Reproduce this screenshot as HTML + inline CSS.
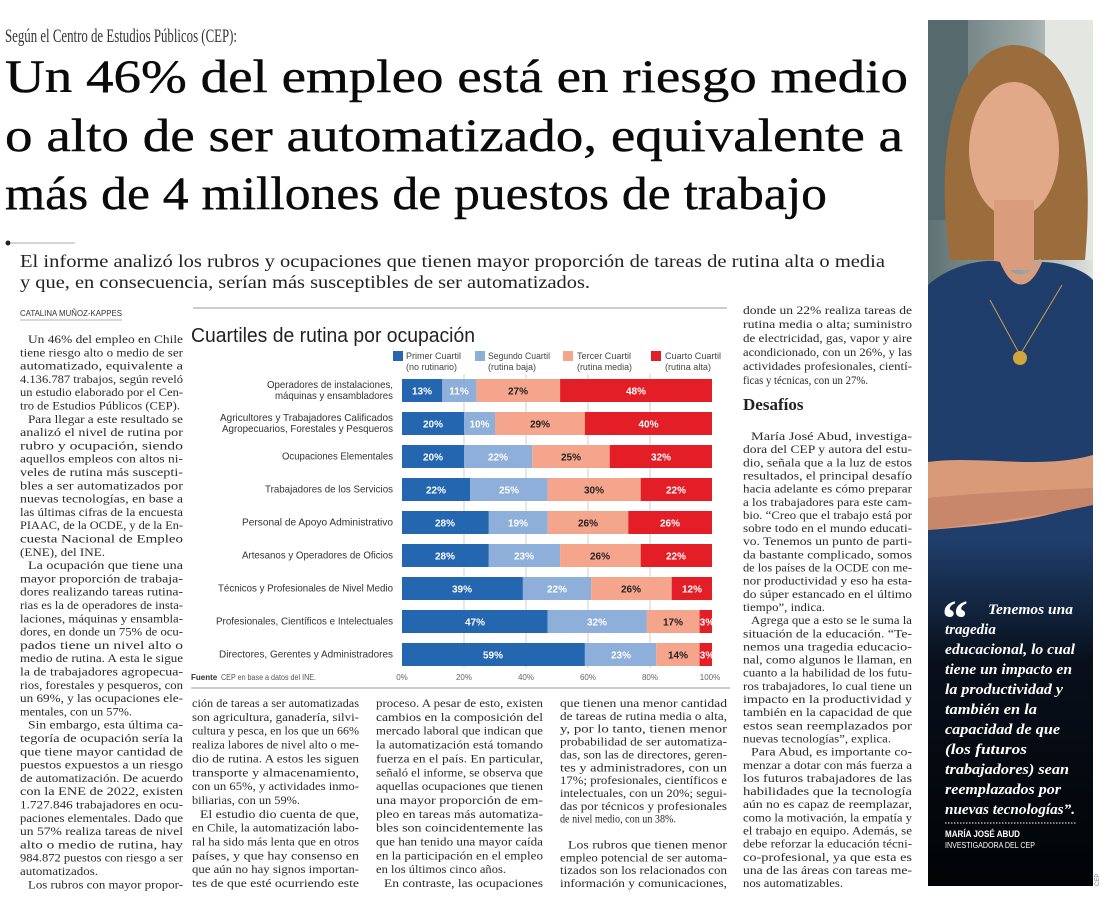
<!DOCTYPE html>
<html><head><meta charset="utf-8"><style>
html,body{margin:0;padding:0;background:#fff}
svg{display:block}
.b{font-family:"Liberation Serif",serif;font-size:12px;fill:#2a2a2a}
.s{font-family:"Liberation Sans",sans-serif}
.cat{font-family:"Liberation Sans",sans-serif;font-size:10.5px;fill:#333}
.v{font-family:"Liberation Sans",sans-serif;font-size:10px;font-weight:bold;fill:#fff}
.vd{font-family:"Liberation Sans",sans-serif;font-size:10px;font-weight:bold;fill:#222}
.lg{font-family:"Liberation Sans",sans-serif;font-size:9px;fill:#444}
.ax{font-family:"Liberation Sans",sans-serif;font-size:8px;fill:#666}
.q{font-family:"Liberation Serif",serif;font-size:15px;font-weight:bold;font-style:italic;fill:#fff}
</style></head><body>
<svg width="1100" height="898" viewBox="0 0 1100 898" xmlns="http://www.w3.org/2000/svg">
<defs>
<linearGradient id="bg" x1="0" y1="0" x2="1" y2="0"><stop offset="0" stop-color="#5f7274"/><stop offset="0.6" stop-color="#9aa7a6"/><stop offset="1" stop-color="#dfe2de"/></linearGradient>
<linearGradient id="dk" x1="0" y1="0" x2="0" y2="1"><stop offset="0" stop-color="#000" stop-opacity="0"/><stop offset="0.35" stop-color="#000" stop-opacity="0.75"/><stop offset="1" stop-color="#000" stop-opacity="0.95"/></linearGradient>
<clipPath id="ph"><rect x="928" y="20" width="165" height="866"/></clipPath>
</defs>

<!-- Header -->
<text x="5" y="42" font-family="Liberation Serif, serif" font-size="19" fill="#333" textLength="232" lengthAdjust="spacingAndGlyphs">Según el Centro de Estudios Públicos (CEP):</text>
<g font-family="Liberation Serif, serif" font-size="47" fill="#0a0a0a" stroke="#0a0a0a" stroke-width="0.4">
<text x="5" y="92" textLength="903" lengthAdjust="spacingAndGlyphs">Un 46% del empleo está en riesgo medio</text>
<text x="5" y="151" textLength="898" lengthAdjust="spacingAndGlyphs">o alto de ser automatizado, equivalente a</text>
<text x="5" y="209" textLength="822" lengthAdjust="spacingAndGlyphs">más de 4 millones de puestos de trabajo</text>
</g>
<circle cx="8" cy="243" r="2.5" fill="#222"/>
<line x1="10" y1="243" x2="75" y2="243" stroke="#aaa" stroke-width="1"/>
<g font-family="Liberation Serif, serif" font-size="18" fill="#222">
<text x="20" y="267" textLength="865" lengthAdjust="spacingAndGlyphs">El informe analizó los rubros y ocupaciones que tienen mayor proporción de tareas de rutina alta o media</text>
<text x="20" y="288" textLength="570" lengthAdjust="spacingAndGlyphs">y que, en consecuencia, serían más susceptibles de ser automatizados.</text>
</g>
<text x="20" y="316" class="s" font-size="8.5" fill="#333" textLength="102" lengthAdjust="spacingAndGlyphs">CATALINA MUÑOZ-KAPPES</text>
<line x1="20" y1="320" x2="122" y2="320" stroke="#999" stroke-width="0.7"/>
<line x1="193" y1="308" x2="727" y2="308" stroke="#999" stroke-width="1"/>

<!-- Left column -->
<g class="b">
<text x="28" y="343" textLength="155" lengthAdjust="spacingAndGlyphs">Un 46% del empleo en Chile</text>
<text x="20" y="356.3" textLength="163" lengthAdjust="spacingAndGlyphs">tiene riesgo alto o medio de ser</text>
<text x="20" y="369.6" textLength="163" lengthAdjust="spacingAndGlyphs">automatizado, equivalente a</text>
<text x="20" y="382.9" textLength="163" lengthAdjust="spacingAndGlyphs">4.136.787 trabajos, según reveló</text>
<text x="20" y="396.2" textLength="163" lengthAdjust="spacingAndGlyphs">un estudio elaborado por el Cen-</text>
<text x="20" y="409.5" textLength="160" lengthAdjust="spacingAndGlyphs">tro de Estudios Públicos (CEP).</text>
<text x="28" y="422.8" textLength="155" lengthAdjust="spacingAndGlyphs">Para llegar a este resultado se</text>
<text x="20" y="436.1" textLength="163" lengthAdjust="spacingAndGlyphs">analizó el nivel de rutina por</text>
<text x="20" y="449.4" textLength="163" lengthAdjust="spacingAndGlyphs">rubro y ocupación, siendo</text>
<text x="20" y="462.7" textLength="163" lengthAdjust="spacingAndGlyphs">aquellos empleos con altos ni-</text>
<text x="20" y="476" textLength="163" lengthAdjust="spacingAndGlyphs">veles de rutina más suscepti-</text>
<text x="20" y="489.3" textLength="163" lengthAdjust="spacingAndGlyphs">bles a ser automatizados por</text>
<text x="20" y="502.6" textLength="163" lengthAdjust="spacingAndGlyphs">nuevas tecnologías, en base a</text>
<text x="20" y="515.9" textLength="163" lengthAdjust="spacingAndGlyphs">las últimas cifras de la encuesta</text>
<text x="20" y="529.2" textLength="163" lengthAdjust="spacingAndGlyphs">PIAAC, de la OCDE, y de la En-</text>
<text x="20" y="542.5" textLength="163" lengthAdjust="spacingAndGlyphs">cuesta Nacional de Empleo</text>
<text x="20" y="555.8" textLength="85" lengthAdjust="spacingAndGlyphs">(ENE), del INE.</text>
<text x="28" y="569.1" textLength="155" lengthAdjust="spacingAndGlyphs">La ocupación que tiene una</text>
<text x="20" y="582.4" textLength="163" lengthAdjust="spacingAndGlyphs">mayor proporción de trabaja-</text>
<text x="20" y="595.7" textLength="163" lengthAdjust="spacingAndGlyphs">dores realizando tareas rutina-</text>
<text x="20" y="609" textLength="163" lengthAdjust="spacingAndGlyphs">rias es la de operadores de insta-</text>
<text x="20" y="622.3" textLength="163" lengthAdjust="spacingAndGlyphs">laciones, máquinas y ensambla-</text>
<text x="20" y="635.6" textLength="163" lengthAdjust="spacingAndGlyphs">dores, en donde un 75% de ocu-</text>
<text x="20" y="648.9" textLength="163" lengthAdjust="spacingAndGlyphs">pados tiene un nivel alto o</text>
<text x="20" y="662.2" textLength="163" lengthAdjust="spacingAndGlyphs">medio de rutina. A esta le sigue</text>
<text x="20" y="675.5" textLength="163" lengthAdjust="spacingAndGlyphs">la de trabajadores agropecua-</text>
<text x="20" y="688.8" textLength="163" lengthAdjust="spacingAndGlyphs">rios, forestales y pesqueros, con</text>
<text x="20" y="702.1" textLength="163" lengthAdjust="spacingAndGlyphs">un 69%, y las ocupaciones ele-</text>
<text x="20" y="715.4" textLength="112" lengthAdjust="spacingAndGlyphs">mentales, con un 57%.</text>
<text x="28" y="728.7" textLength="155" lengthAdjust="spacingAndGlyphs">Sin embargo, esta última ca-</text>
<text x="20" y="742" textLength="163" lengthAdjust="spacingAndGlyphs">tegoría de ocupación sería la</text>
<text x="20" y="755.3" textLength="163" lengthAdjust="spacingAndGlyphs">que tiene mayor cantidad de</text>
<text x="20" y="768.6" textLength="163" lengthAdjust="spacingAndGlyphs">puestos expuestos a un riesgo</text>
<text x="20" y="781.9" textLength="163" lengthAdjust="spacingAndGlyphs">de automatización. De acuerdo</text>
<text x="20" y="795.2" textLength="163" lengthAdjust="spacingAndGlyphs">con la ENE de 2022, existen</text>
<text x="20" y="808.5" textLength="163" lengthAdjust="spacingAndGlyphs">1.727.846 trabajadores en ocu-</text>
<text x="20" y="821.8" textLength="163" lengthAdjust="spacingAndGlyphs">paciones elementales. Dado que</text>
<text x="20" y="835.1" textLength="163" lengthAdjust="spacingAndGlyphs">un 57% realiza tareas de nivel</text>
<text x="20" y="848.4" textLength="163" lengthAdjust="spacingAndGlyphs">alto o medio de rutina, hay</text>
<text x="20" y="861.7" textLength="163" lengthAdjust="spacingAndGlyphs">984.872 puestos con riesgo a ser</text>
<text x="20" y="875" textLength="78" lengthAdjust="spacingAndGlyphs">automatizados.</text>
<text x="28" y="888.3" textLength="155" lengthAdjust="spacingAndGlyphs">Los rubros con mayor propor-</text>
</g>

<!-- Chart -->
<text x="191" y="342" class="s" font-size="20" fill="#222" textLength="284" lengthAdjust="spacingAndGlyphs">Cuartiles de rutina por ocupación</text>
<rect x="393" y="351" width="10" height="10" fill="#2466b0"/>
<rect x="475" y="351" width="10" height="10" fill="#8dafda"/>
<rect x="563" y="351" width="10" height="10" fill="#f5a58b"/>
<rect x="651" y="351" width="10" height="10" fill="#e31e26"/>
<g class="lg">
<text x="406" y="359" textLength="55" lengthAdjust="spacingAndGlyphs">Primer Cuartil</text>
<text x="406" y="370" textLength="51" lengthAdjust="spacingAndGlyphs">(no rutinario)</text>
<text x="488" y="359" textLength="62" lengthAdjust="spacingAndGlyphs">Segundo Cuartil</text>
<text x="488" y="370" textLength="48" lengthAdjust="spacingAndGlyphs">(rutina baja)</text>
<text x="577" y="359" textLength="54" lengthAdjust="spacingAndGlyphs">Tercer Cuartil</text>
<text x="577" y="370" textLength="55" lengthAdjust="spacingAndGlyphs">(rutina media)</text>
<text x="665" y="359" textLength="56" lengthAdjust="spacingAndGlyphs">Cuarto Cuartil</text>
<text x="665" y="370" textLength="46" lengthAdjust="spacingAndGlyphs">(rutina alta)</text>
</g>
<g stroke="#cfcfcf" stroke-width="1">
<line x1="464" y1="374" x2="464" y2="668"/><line x1="526" y1="374" x2="526" y2="668"/>
<line x1="588" y1="374" x2="588" y2="668"/><line x1="650" y1="374" x2="650" y2="668"/>
</g>
<g>
<rect x="402" y="379" width="40.3" height="23" fill="#2466b0"/><rect x="442.3" y="379" width="34.1" height="23" fill="#8dafda"/><rect x="476.4" y="379" width="83.7" height="23" fill="#f5a58b"/><rect x="560.1" y="379" width="151.9" height="23" fill="#e31e26"/>
<rect x="402" y="412" width="62" height="23" fill="#2466b0"/><rect x="464" y="412" width="31" height="23" fill="#8dafda"/><rect x="495" y="412" width="89.9" height="23" fill="#f5a58b"/><rect x="584.9" y="412" width="127.1" height="23" fill="#e31e26"/>
<rect x="402" y="445" width="62" height="23" fill="#2466b0"/><rect x="464" y="445" width="68.2" height="23" fill="#8dafda"/><rect x="532.2" y="445" width="77.5" height="23" fill="#f5a58b"/><rect x="609.7" y="445" width="102.3" height="23" fill="#e31e26"/>
<rect x="402" y="478" width="68.2" height="23" fill="#2466b0"/><rect x="470.2" y="478" width="77.5" height="23" fill="#8dafda"/><rect x="547.7" y="478" width="93" height="23" fill="#f5a58b"/><rect x="640.7" y="478" width="71.3" height="23" fill="#e31e26"/>
<rect x="402" y="511" width="86.8" height="23" fill="#2466b0"/><rect x="488.8" y="511" width="58.9" height="23" fill="#8dafda"/><rect x="547.7" y="511" width="80.6" height="23" fill="#f5a58b"/><rect x="628.3" y="511" width="83.7" height="23" fill="#e31e26"/>
<rect x="402" y="544" width="86.8" height="23" fill="#2466b0"/><rect x="488.8" y="544" width="71.3" height="23" fill="#8dafda"/><rect x="560.1" y="544" width="80.6" height="23" fill="#f5a58b"/><rect x="640.7" y="544" width="71.3" height="23" fill="#e31e26"/>
<rect x="402" y="577" width="120.9" height="23" fill="#2466b0"/><rect x="522.9" y="577" width="68.2" height="23" fill="#8dafda"/><rect x="591.1" y="577" width="80.6" height="23" fill="#f5a58b"/><rect x="671.7" y="577" width="40.3" height="23" fill="#e31e26"/>
<rect x="402" y="610" width="145.7" height="23" fill="#2466b0"/><rect x="547.7" y="610" width="99.2" height="23" fill="#8dafda"/><rect x="646.9" y="610" width="52.7" height="23" fill="#f5a58b"/><rect x="699.6" y="610" width="12.4" height="23" fill="#e31e26"/>
<rect x="402" y="643" width="182.9" height="23" fill="#2466b0"/><rect x="584.9" y="643" width="71.3" height="23" fill="#8dafda"/><rect x="656.2" y="643" width="43.4" height="23" fill="#f5a58b"/><rect x="699.6" y="643" width="12.4" height="23" fill="#e31e26"/>
</g>
<g text-anchor="middle">
<text class="v" x="422" y="394.5">13%</text><text class="v" x="459" y="394.5">11%</text><text class="vd" x="518" y="394.5">27%</text><text class="v" x="636" y="394.5">48%</text>
<text class="v" x="433" y="427.5">20%</text><text class="v" x="479.5" y="427.5">10%</text><text class="vd" x="540" y="427.5">29%</text><text class="v" x="648.5" y="427.5">40%</text>
<text class="v" x="433" y="460.5">20%</text><text class="v" x="498" y="460.5">22%</text><text class="vd" x="571" y="460.5">25%</text><text class="v" x="661" y="460.5">32%</text>
<text class="v" x="436" y="493.5">22%</text><text class="v" x="509" y="493.5">25%</text><text class="vd" x="594" y="493.5">30%</text><text class="v" x="676" y="493.5">22%</text>
<text class="v" x="445" y="526.5">28%</text><text class="v" x="518" y="526.5">19%</text><text class="vd" x="588" y="526.5">26%</text><text class="v" x="670" y="526.5">26%</text>
<text class="v" x="445" y="559.5">28%</text><text class="v" x="524" y="559.5">23%</text><text class="vd" x="600" y="559.5">26%</text><text class="v" x="676" y="559.5">22%</text>
<text class="v" x="462" y="592.5">39%</text><text class="v" x="557" y="592.5">22%</text><text class="vd" x="631" y="592.5">26%</text><text class="v" x="692" y="592.5">12%</text>
<text class="v" x="475" y="625.5">47%</text><text class="v" x="597" y="625.5">32%</text><text class="vd" x="673" y="625.5">17%</text><text class="v" x="707" y="625.5">3%</text>
<text class="v" x="493" y="658.5">59%</text><text class="v" x="621" y="658.5">23%</text><text class="vd" x="678" y="658.5">14%</text><text class="v" x="707" y="658.5">3%</text>
</g>
<g class="cat" text-anchor="end">
<text x="393" y="388" textLength="126" lengthAdjust="spacingAndGlyphs">Operadores de instalaciones,</text>
<text x="393" y="399" textLength="118" lengthAdjust="spacingAndGlyphs">máquinas y ensambladores</text>
<text x="393" y="421" textLength="173" lengthAdjust="spacingAndGlyphs">Agricultores y Trabajadores Calificados</text>
<text x="393" y="432" textLength="171" lengthAdjust="spacingAndGlyphs">Agropecuarios, Forestales y Pesqueros</text>
<text x="393" y="459.5" textLength="111" lengthAdjust="spacingAndGlyphs">Ocupaciones Elementales</text>
<text x="393" y="492.5" textLength="128" lengthAdjust="spacingAndGlyphs">Trabajadores de los Servicios</text>
<text x="393" y="525.5" textLength="151" lengthAdjust="spacingAndGlyphs">Personal de Apoyo Administrativo</text>
<text x="393" y="558.5" textLength="151" lengthAdjust="spacingAndGlyphs">Artesanos y Operadores de Oficios</text>
<text x="393" y="591.5" textLength="175" lengthAdjust="spacingAndGlyphs">Técnicos y Profesionales de Nivel Medio</text>
<text x="393" y="624.5" textLength="177" lengthAdjust="spacingAndGlyphs">Profesionales, Científicos e Intelectuales</text>
<text x="393" y="657.5" textLength="174" lengthAdjust="spacingAndGlyphs">Directores, Gerentes y Administradores</text>
</g>
<g class="ax" text-anchor="middle">
<text x="402" y="680">0%</text><text x="464" y="680">20%</text><text x="526" y="680">40%</text><text x="588" y="680">60%</text><text x="650" y="680">80%</text><text x="710" y="680">100%</text>
</g>
<text x="191" y="680" class="s" font-size="8" font-weight="bold" fill="#333">Fuente</text>
<text x="221" y="680" class="s" font-size="8" fill="#555" textLength="95" lengthAdjust="spacingAndGlyphs">CEP en base a datos del INE.</text>
<line x1="191" y1="688" x2="730" y2="688" stroke="#999" stroke-width="1"/>

<!-- Bottom columns -->
<g class="b">
<text x="192" y="707" textLength="167" lengthAdjust="spacingAndGlyphs">ción de tareas a ser automatizadas</text>
<text x="192" y="720.85" textLength="167" lengthAdjust="spacingAndGlyphs">son agricultura, ganadería, silvi-</text>
<text x="192" y="734.7" textLength="167" lengthAdjust="spacingAndGlyphs">cultura y pesca, en los que un 66%</text>
<text x="192" y="748.55" textLength="167" lengthAdjust="spacingAndGlyphs">realiza labores de nivel alto o me-</text>
<text x="192" y="762.4" textLength="167" lengthAdjust="spacingAndGlyphs">dio de rutina. A estos les siguen</text>
<text x="192" y="776.25" textLength="167" lengthAdjust="spacingAndGlyphs">transporte y almacenamiento,</text>
<text x="192" y="790.1" textLength="167" lengthAdjust="spacingAndGlyphs">con un 65%, y actividades inmo-</text>
<text x="192" y="803.95" textLength="108" lengthAdjust="spacingAndGlyphs">biliarias, con un 59%.</text>
<text x="200" y="817.8" textLength="159" lengthAdjust="spacingAndGlyphs">El estudio dio cuenta de que,</text>
<text x="192" y="831.65" textLength="167" lengthAdjust="spacingAndGlyphs">en Chile, la automatización labo-</text>
<text x="192" y="845.5" textLength="167" lengthAdjust="spacingAndGlyphs">ral ha sido más lenta que en otros</text>
<text x="192" y="859.35" textLength="167" lengthAdjust="spacingAndGlyphs">países, y que hay consenso en</text>
<text x="192" y="873.2" textLength="167" lengthAdjust="spacingAndGlyphs">que aún no hay signos importan-</text>
<text x="192" y="887" textLength="167" lengthAdjust="spacingAndGlyphs">tes de que esté ocurriendo este</text>

<text x="376" y="707" textLength="167" lengthAdjust="spacingAndGlyphs">proceso. A pesar de esto, existen</text>
<text x="376" y="720.85" textLength="167" lengthAdjust="spacingAndGlyphs">cambios en la composición del</text>
<text x="376" y="734.7" textLength="167" lengthAdjust="spacingAndGlyphs">mercado laboral que indican que</text>
<text x="376" y="748.55" textLength="167" lengthAdjust="spacingAndGlyphs">la automatización está tomando</text>
<text x="376" y="762.4" textLength="167" lengthAdjust="spacingAndGlyphs">fuerza en el país. En particular,</text>
<text x="376" y="776.25" textLength="167" lengthAdjust="spacingAndGlyphs">señaló el informe, se observa que</text>
<text x="376" y="790.1" textLength="167" lengthAdjust="spacingAndGlyphs">aquellas ocupaciones que tienen</text>
<text x="376" y="803.95" textLength="167" lengthAdjust="spacingAndGlyphs">una mayor proporción de em-</text>
<text x="376" y="817.8" textLength="167" lengthAdjust="spacingAndGlyphs">pleo en tareas más automatiza-</text>
<text x="376" y="831.65" textLength="167" lengthAdjust="spacingAndGlyphs">bles son coincidentemente las</text>
<text x="376" y="845.5" textLength="167" lengthAdjust="spacingAndGlyphs">que han tenido una mayor caída</text>
<text x="376" y="859.35" textLength="167" lengthAdjust="spacingAndGlyphs">en la participación en el empleo</text>
<text x="376" y="873.2" textLength="130" lengthAdjust="spacingAndGlyphs">en los últimos cinco años.</text>
<text x="384" y="887" textLength="159" lengthAdjust="spacingAndGlyphs">En contraste, las ocupaciones</text>

<text x="560" y="707" textLength="167" lengthAdjust="spacingAndGlyphs">que tienen una menor cantidad</text>
<text x="560" y="719.9" textLength="167" lengthAdjust="spacingAndGlyphs">de tareas de rutina media o alta,</text>
<text x="560" y="732.7" textLength="167" lengthAdjust="spacingAndGlyphs">y, por lo tanto, tienen menor</text>
<text x="560" y="745.6" textLength="167" lengthAdjust="spacingAndGlyphs">probabilidad de ser automatiza-</text>
<text x="560" y="758.4" textLength="167" lengthAdjust="spacingAndGlyphs">das, son las de directores, geren-</text>
<text x="560" y="771.3" textLength="167" lengthAdjust="spacingAndGlyphs">tes y administradores, con un</text>
<text x="560" y="784.2" textLength="167" lengthAdjust="spacingAndGlyphs">17%; profesionales, científicos e</text>
<text x="560" y="797" textLength="167" lengthAdjust="spacingAndGlyphs">intelectuales, con un 20%; segui-</text>
<text x="560" y="809.9" textLength="167" lengthAdjust="spacingAndGlyphs">das por técnicos y profesionales</text>
<text x="560" y="822.7" textLength="116" lengthAdjust="spacingAndGlyphs">de nivel medio, con un 38%.</text>
<text x="568" y="848.5" textLength="159" lengthAdjust="spacingAndGlyphs">Los rubros que tienen menor</text>
<text x="560" y="861.3" textLength="167" lengthAdjust="spacingAndGlyphs">empleo potencial de ser automa-</text>
<text x="560" y="874.2" textLength="167" lengthAdjust="spacingAndGlyphs">tizados son los relacionados con</text>
<text x="560" y="887" textLength="167" lengthAdjust="spacingAndGlyphs">información y comunicaciones,</text>
</g>

<!-- Right column -->
<g class="b">
<text x="743" y="314" textLength="169" lengthAdjust="spacingAndGlyphs">donde un 22% realiza tareas de</text>
<text x="743" y="328" textLength="169" lengthAdjust="spacingAndGlyphs">rutina media o alta; suministro</text>
<text x="743" y="342" textLength="169" lengthAdjust="spacingAndGlyphs">de electricidad, gas, vapor y aire</text>
<text x="743" y="356" textLength="169" lengthAdjust="spacingAndGlyphs">acondicionado, con un 26%, y las</text>
<text x="743" y="370" textLength="169" lengthAdjust="spacingAndGlyphs">actividades profesionales, cientí-</text>
<text x="743" y="384" textLength="125" lengthAdjust="spacingAndGlyphs">ficas y técnicas, con un 27%.</text>
</g>
<text x="743" y="410" font-family="Liberation Serif, serif" font-size="17" font-weight="bold" fill="#222">Desafíos</text>
<g class="b">
<text x="751" y="440" textLength="161" lengthAdjust="spacingAndGlyphs">María José Abud, investiga-</text>
<text x="743" y="453.15" textLength="169" lengthAdjust="spacingAndGlyphs">dora del CEP y autora del estu-</text>
<text x="743" y="466.3" textLength="169" lengthAdjust="spacingAndGlyphs">dio, señala que a la luz de estos</text>
<text x="743" y="479.45" textLength="169" lengthAdjust="spacingAndGlyphs">resultados, el principal desafío</text>
<text x="743" y="492.6" textLength="169" lengthAdjust="spacingAndGlyphs">hacia adelante es cómo preparar</text>
<text x="743" y="505.75" textLength="169" lengthAdjust="spacingAndGlyphs">a los trabajadores para este cam-</text>
<text x="743" y="518.9" textLength="169" lengthAdjust="spacingAndGlyphs">bio. “Creo que el trabajo está por</text>
<text x="743" y="532.05" textLength="169" lengthAdjust="spacingAndGlyphs">sobre todo en el mundo educati-</text>
<text x="743" y="545.2" textLength="169" lengthAdjust="spacingAndGlyphs">vo. Tenemos un punto de parti-</text>
<text x="743" y="558.35" textLength="169" lengthAdjust="spacingAndGlyphs">da bastante complicado, somos</text>
<text x="743" y="571.5" textLength="169" lengthAdjust="spacingAndGlyphs">de los países de la OCDE con me-</text>
<text x="743" y="584.65" textLength="169" lengthAdjust="spacingAndGlyphs">nor productividad y eso ha esta-</text>
<text x="743" y="597.8" textLength="169" lengthAdjust="spacingAndGlyphs">do súper estancado en el último</text>
<text x="743" y="610.95" textLength="82" lengthAdjust="spacingAndGlyphs">tiempo”, indica.</text>
<text x="751" y="624.1" textLength="161" lengthAdjust="spacingAndGlyphs">Agrega que a esto se le suma la</text>
<text x="743" y="637.25" textLength="169" lengthAdjust="spacingAndGlyphs">situación de la educación. “Te-</text>
<text x="743" y="650.4" textLength="169" lengthAdjust="spacingAndGlyphs">nemos una tragedia educacio-</text>
<text x="743" y="663.55" textLength="169" lengthAdjust="spacingAndGlyphs">nal, como algunos le llaman, en</text>
<text x="743" y="676.7" textLength="169" lengthAdjust="spacingAndGlyphs">cuanto a la habilidad de los futu-</text>
<text x="743" y="689.85" textLength="169" lengthAdjust="spacingAndGlyphs">ros trabajadores, lo cual tiene un</text>
<text x="743" y="703" textLength="169" lengthAdjust="spacingAndGlyphs">impacto en la productividad y</text>
<text x="743" y="716.15" textLength="169" lengthAdjust="spacingAndGlyphs">también en la capacidad de que</text>
<text x="743" y="729.3" textLength="169" lengthAdjust="spacingAndGlyphs">estos sean reemplazados por</text>
<text x="743" y="742.45" textLength="148" lengthAdjust="spacingAndGlyphs">nuevas tecnologías”, explica.</text>
<text x="751" y="755.6" textLength="161" lengthAdjust="spacingAndGlyphs">Para Abud, es importante co-</text>
<text x="743" y="768.75" textLength="169" lengthAdjust="spacingAndGlyphs">menzar a dotar con más fuerza a</text>
<text x="743" y="781.9" textLength="169" lengthAdjust="spacingAndGlyphs">los futuros trabajadores de las</text>
<text x="743" y="795.05" textLength="169" lengthAdjust="spacingAndGlyphs">habilidades que la tecnología</text>
<text x="743" y="808.2" textLength="169" lengthAdjust="spacingAndGlyphs">aún no es capaz de reemplazar,</text>
<text x="743" y="821.35" textLength="169" lengthAdjust="spacingAndGlyphs">como la motivación, la empatía y</text>
<text x="743" y="834.5" textLength="169" lengthAdjust="spacingAndGlyphs">el trabajo en equipo. Además, se</text>
<text x="743" y="847.65" textLength="169" lengthAdjust="spacingAndGlyphs">debe reforzar la educación técni-</text>
<text x="743" y="860.8" textLength="169" lengthAdjust="spacingAndGlyphs">co-profesional, ya que esta es</text>
<text x="743" y="873.95" textLength="169" lengthAdjust="spacingAndGlyphs">una de las áreas con tareas me-</text>
<text x="743" y="887.1" textLength="100" lengthAdjust="spacingAndGlyphs">nos automatizables.</text>
</g>

<!-- Photo -->
<g clip-path="url(#ph)">
<rect x="928" y="20" width="165" height="866" fill="url(#bg)"/>
<rect x="1045" y="20" width="48" height="240" fill="#e4e6e2"/>
<rect x="928" y="20" width="40" height="200" fill="#56696c"/>
<path d="M950 260 C935 160 950 50 1012 45 C1080 45 1095 150 1085 260 Z" fill="#9c6d3c"/>
<ellipse cx="1014" cy="150" rx="45" ry="68" fill="#e2a989"/>
<rect x="994" y="200" width="40" height="70" fill="#d99c7c"/>
<path d="M928 285 C950 265 985 258 1000 262 C1012 290 1030 290 1042 262 C1060 262 1085 270 1093 280 L1093 886 L928 886 Z" fill="#1f3e6b"/>
<path d="M1000 262 C1012 292 1030 292 1042 262 L1040 258 C1030 280 1012 280 1002 258 Z" fill="#d99c7c"/>
<path d="M990 300 L1020 355 L1062 285" stroke="#c9a24d" stroke-width="1" fill="none"/>
<circle cx="1020" cy="358" r="7" fill="#d1a53b"/>
<path d="M928 462 C980 455 1040 470 1093 455 L1093 500 C1050 520 990 525 928 530 Z" fill="#d99a77"/>
<path d="M928 498 C990 492 1050 490 1093 488 L1093 505 C1050 515 990 522 928 530 Z" fill="#c8876a"/>
<rect x="928" y="540" width="165" height="346" fill="url(#dk)"/>
</g>
<text x="942" y="636" font-family="Liberation Serif, serif" font-size="52" font-weight="bold" fill="#fff">“</text>
<g class="q">
<text x="988" y="614" textLength="85" lengthAdjust="spacingAndGlyphs">Tenemos una</text>
<text x="945" y="634">tragedia</text>
<text x="945" y="654" textLength="130" lengthAdjust="spacingAndGlyphs">educacional, lo cual</text>
<text x="945" y="674" textLength="127" lengthAdjust="spacingAndGlyphs">tiene un impacto en</text>
<text x="945" y="694" textLength="118" lengthAdjust="spacingAndGlyphs">la productividad y</text>
<text x="945" y="714" textLength="92" lengthAdjust="spacingAndGlyphs">también en la</text>
<text x="945" y="734" textLength="115" lengthAdjust="spacingAndGlyphs">capacidad de que</text>
<text x="945" y="754" textLength="82" lengthAdjust="spacingAndGlyphs">(los futuros</text>
<text x="945" y="774" textLength="124" lengthAdjust="spacingAndGlyphs">trabajadores) sean</text>
<text x="945" y="794" textLength="116" lengthAdjust="spacingAndGlyphs">reemplazados por</text>
<text x="945" y="814" textLength="130" lengthAdjust="spacingAndGlyphs">nuevas tecnologías”.</text>
</g>
<line x1="945" y1="823" x2="1077" y2="823" stroke="#fff" stroke-width="1" stroke-dasharray="1.5,1.5"/>
<text x="945" y="837" class="s" font-size="9" font-weight="bold" fill="#fff" textLength="75" lengthAdjust="spacingAndGlyphs">MARÍA JOSÉ ABUD</text>
<text x="945" y="848" class="s" font-size="8" fill="#fff" textLength="90" lengthAdjust="spacingAndGlyphs">INVESTIGADORA DEL CEP</text>
<text x="0" y="0" class="s" font-size="6" fill="#777" transform="translate(1099,886) rotate(-90)">CEP</text>
</svg>
</body></html>
